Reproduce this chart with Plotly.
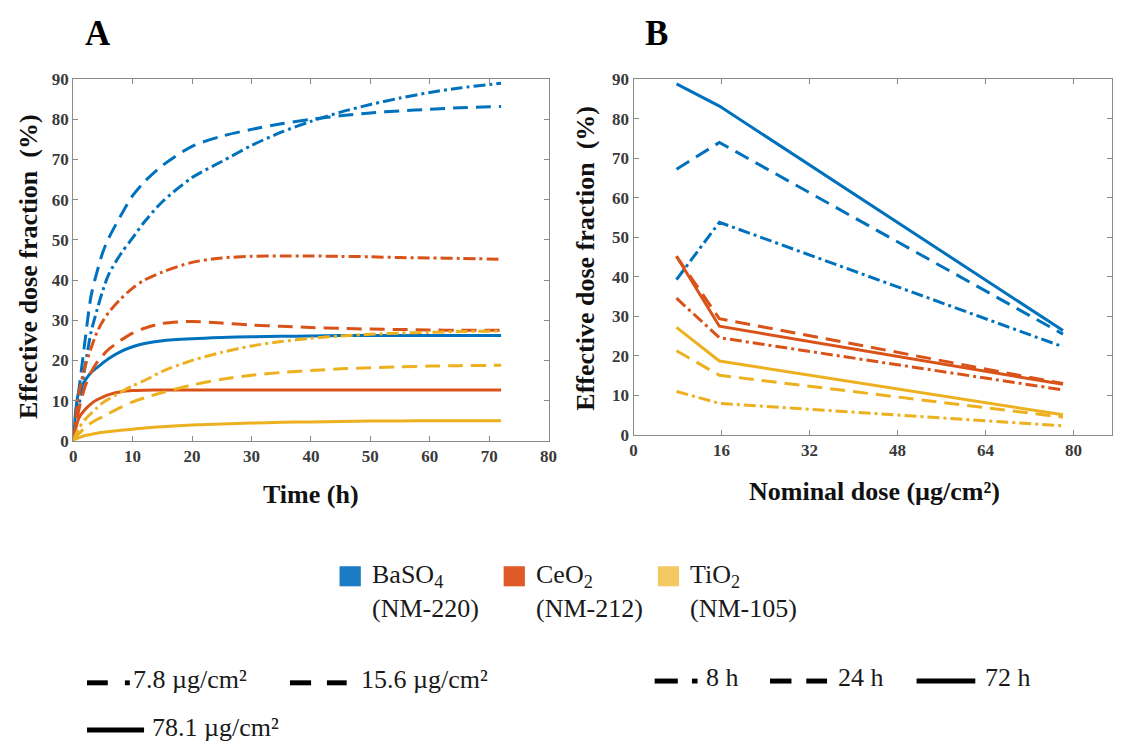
import plotly.graph_objects as go

# ---------------- data ----------------
# Panel A: effective dose fraction (%) vs time (h)
time_h = [0, 0.5, 1, 2, 3, 4, 5, 6, 8, 10, 12, 15, 20, 25, 30, 35, 40, 45, 50, 55, 60, 65, 72]

baso4_7_8 = [0, 5, 9, 18.5, 27, 32.5, 37.5, 41.5, 46.5, 50.5, 54.5, 59.5, 65.5, 69.5, 73.5, 76.8, 79.5, 81.8, 83.7, 85.3, 86.7, 87.8, 89]
baso4_15_6 = [0, 7, 13, 25, 36, 42, 47, 50.5, 56, 61, 64.5, 68.5, 73.3, 75.8, 77.5, 78.9, 80, 80.9, 81.6, 82.1, 82.5, 82.9, 83.2]
baso4_78_1 = [0, 8.5, 12.5, 15, 17, 18.2, 19.4, 20.5, 22.2, 23.4, 24.2, 24.9, 25.4, 25.7, 25.9, 26, 26.1, 26.2, 26.2, 26.2, 26.2, 26.2, 26.2]

ceo2_7_8 = [0, 6.5, 12, 18.5, 23, 27, 29.8, 32, 35.3, 38, 40, 42, 44.4, 45.5, 45.9, 46, 46, 45.9, 45.8, 45.6, 45.5, 45.4, 45.2]
ceo2_15_6 = [0, 4, 8, 13.5, 17, 19.5, 21.3, 22.8, 25, 26.8, 28, 29.2, 29.7, 29.3, 28.8, 28.5, 28.2, 28, 27.8, 27.7, 27.6, 27.5, 27.5]
ceo2_78_1 = [0, 3.5, 5.8, 7.8, 9.2, 10.2, 10.9, 11.5, 12.2, 12.5, 12.6, 12.65, 12.65, 12.65, 12.65, 12.65, 12.65, 12.65, 12.65, 12.65, 12.65, 12.65, 12.65]

tio2_7_8 = [0, 1.8, 3.2, 5.3, 6.8, 8.2, 9.5, 10.4, 12.1, 13.7, 15, 17.3, 20, 22, 23.6, 24.7, 25.5, 26.1, 26.5, 26.8, 27, 27.2, 27.3]
tio2_15_6 = [0, 1, 1.8, 3.3, 4.4, 5.3, 6, 6.8, 8.3, 9.7, 10.7, 12, 13.9, 15.3, 16.3, 17, 17.5, 17.9, 18.2, 18.4, 18.6, 18.7, 18.8]
tio2_78_1 = [0, 0.5, 0.8, 1.3, 1.6, 1.9, 2.1, 2.3, 2.6, 2.9, 3.2, 3.5, 3.9, 4.2, 4.4, 4.6, 4.7, 4.8, 4.9, 4.95, 5, 5, 5]

# Panel B: effective dose fraction (%) vs nominal dose (ug/cm2)
nominal_dose = [7.8, 15.6, 78.1]

baso4_8h = [39.3, 53.8, 22.3]
baso4_24h = [67.2, 74.0, 25.5]
baso4_72h = [88.8, 83.2, 26.4]

ceo2_8h = [34.6, 24.6, 11.4]
ceo2_24h = [45.2, 29.4, 13.0]
ceo2_72h = [45.2, 27.5, 12.8]

tio2_8h = [11.0, 8.0, 2.3]
tio2_24h = [21.3, 15.1, 4.5]
tio2_72h = [27.2, 18.7, 5.1]

ticks_a_x = [0, 10, 20, 30, 40, 50, 60, 70, 80]
ticks_b_x = [0, 16, 32, 48, 64, 80]
ticks_y = [0, 10, 20, 30, 40, 50, 60, 70, 80, 90]

materials = ["BaSO<sub>4</sub>", "CeO<sub>2</sub>", "TiO<sub>2</sub>"]
material_codes = ["(NM-220)", "(NM-212)", "(NM-105)"]
dose_labels = ["7.8 µg/cm²", "15.6 µg/cm²", "78.1 µg/cm²"]
time_labels = ["8 h", "24 h", "72 h"]

# ---------------- styling ----------------
W, H = 1121, 751
C_BLUE, C_RED, C_YEL = "#0072BD", "#D95319", "#EDB120"
SQ_COLORS = ["#1b7bc4", "#df5a27", "#f4c862"]
DASHDOT = "12px,4px,3px,4px"
DASH = "15px,8px"
LW = 3
SERIF = "Liberation Serif, Times New Roman, serif"
AX_COL = "#8a8a8a"
TICK_FONT = dict(family=SERIF, size=17, color="#3a3a3a", weight="bold")


def px(x):
    return x / W


def py(y):
    return 1 - y / H


fig = go.Figure()

a_series = [
    (baso4_7_8, C_BLUE, DASHDOT), (baso4_15_6, C_BLUE, DASH), (baso4_78_1, C_BLUE, "solid"),
    (ceo2_7_8, C_RED, DASHDOT), (ceo2_15_6, C_RED, DASH), (ceo2_78_1, C_RED, "solid"),
    (tio2_7_8, C_YEL, DASHDOT), (tio2_15_6, C_YEL, DASH), (tio2_78_1, C_YEL, "solid"),
]
for vals, col, dash in a_series:
    fig.add_trace(go.Scatter(x=time_h, y=vals, mode="lines", xaxis="x", yaxis="y",
                             line=dict(color=col, width=LW, dash=dash, shape="spline", smoothing=0.8),
                             showlegend=False, hoverinfo="skip"))

b_series = [
    (baso4_8h, C_BLUE, DASHDOT), (baso4_24h, C_BLUE, DASH), (baso4_72h, C_BLUE, "solid"),
    (ceo2_8h, C_RED, DASHDOT), (ceo2_24h, C_RED, DASH), (ceo2_72h, C_RED, "solid"),
    (tio2_8h, C_YEL, DASHDOT), (tio2_24h, C_YEL, DASH), (tio2_72h, C_YEL, "solid"),
]
for vals, col, dash in b_series:
    fig.add_trace(go.Scatter(x=nominal_dose, y=vals, mode="lines", xaxis="x2", yaxis="y2",
                             line=dict(color=col, width=LW, dash=dash),
                             showlegend=False, hoverinfo="skip"))

axis_common = dict(showline=True, linecolor=AX_COL, linewidth=1.2, mirror="ticks",
                   ticks="inside", ticklen=5, tickcolor=AX_COL, tickwidth=1,
                   showgrid=False, zeroline=False, tickfont=TICK_FONT)

fig.update_layout(
    width=W, height=H, margin=dict(l=0, r=0, t=0, b=0),
    paper_bgcolor="white", plot_bgcolor="white", showlegend=False,
    xaxis=dict(domain=[px(70), px(551)], range=[0, 80], tickvals=ticks_a_x, anchor="y", **axis_common),
    yaxis=dict(domain=[py(443), py(72)], range=[0, 90], tickvals=ticks_y, anchor="x", **axis_common),
    xaxis2=dict(domain=[px(637), 1.0], range=[0, (W - 637) / ((1082 - 637) / 80)], tickvals=ticks_b_x,
                anchor="y2", **axis_common),
    yaxis2=dict(domain=[py(437), py(72)], range=[0, 90], tickvals=ticks_y, anchor="x2", **axis_common),
)

ann = []
bold_title = dict(family=SERIF, size=26, color="#111111", weight="bold")
ann.append(dict(text="A", x=px(95), y=py(25), font=dict(family=SERIF, size=35, color="black", weight="bold")))
ann.append(dict(text="B", x=px(660), y=py(25), font=dict(family=SERIF, size=35, color="black", weight="bold")))
ann.append(dict(text="Effective dose fraction  (%)", x=px(25), y=py(264), textangle=-90, font=bold_title))
ann.append(dict(text="Effective dose fraction  (%)", x=px(588), y=py(256), textangle=-90, font=bold_title))
ann.append(dict(text="Time (h)", x=px(311), y=py(498), font=bold_title))
ann.append(dict(text="Nominal dose (µg/cm²)", x=px(881), y=py(495), font=bold_title))

leg_font = dict(family=SERIF, size=26, color="#1a1a1a")
shapes = []
sq_x = [339.5, 505.5, 661.5]
for i in range(3):
    shapes.append(dict(type="rect", xref="paper", yref="paper", x0=px(sq_x[i]), x1=px(sq_x[i] + 21.5),
                       y0=py(592.3), y1=py(571.7), fillcolor=SQ_COLORS[i], line=dict(width=0)))
    ann.append(dict(text=materials[i], x=px(sq_x[i] + 30.5), y=py(582), xanchor="left", font=leg_font))
    ann.append(dict(text=material_codes[i], x=px(sq_x[i] + 30.5), y=py(615), xanchor="left", font=leg_font))


def seg(x0, x1, y, w=5):
    shapes.append(dict(type="line", xref="paper", yref="paper", x0=px(x0), x1=px(x1), y0=py(y), y1=py(y),
                       line=dict(color="black", width=w)))


def dot(x0, x1, y):
    shapes.append(dict(type="rect", xref="paper", yref="paper", x0=px(x0), x1=px(x1), y0=py(y + 2.5),
                       y1=py(y - 2.5), fillcolor="black", line=dict(width=0)))


# dose legend
seg(84, 105, 691.3); dot(122.3, 127.3, 691.3)
ann.append(dict(text=dose_labels[0], x=px(128.5), y=py(688), xanchor="left", font=leg_font))
seg(289.3, 310.7, 691.3); seg(326.7, 346.7, 691.3)
ann.append(dict(text=dose_labels[1], x=px(359), y=py(688), xanchor="left", font=leg_font))
seg(84, 141.7, 739.7)
ann.append(dict(text=dose_labels[2], x=px(148), y=py(737), xanchor="left", font=leg_font))

# time legend
seg(658.3, 681.7, 689.5); dot(696, 701.7, 689.5)
ann.append(dict(text=time_labels[0], x=px(708), y=py(686), xanchor="left", font=leg_font))
seg(775, 796.7, 689.5); seg(811.7, 832.7, 689.5)
ann.append(dict(text=time_labels[1], x=px(841.5), y=py(686), xanchor="left", font=leg_font))
seg(923.3, 982.7, 689.5)
ann.append(dict(text=time_labels[2], x=px(990), y=py(686), xanchor="left", font=leg_font))

for a in ann:
    a.setdefault("xref", "paper")
    a.setdefault("yref", "paper")
    a.setdefault("showarrow", False)
    a.setdefault("xanchor", "center")
    a.setdefault("yanchor", "middle")

fig.update_layout(annotations=ann, shapes=shapes)
fig.write_html("out.html", config={"displayModeBar": False},
               post_script="document.body.style.margin='0';document.body.style.overflow='hidden';")
